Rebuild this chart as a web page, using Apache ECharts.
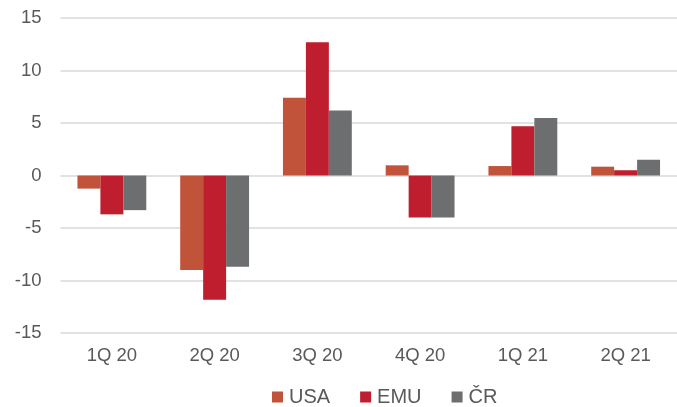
<!DOCTYPE html>
<html><head><meta charset="utf-8">
<script src="https://cdn.jsdelivr.net/npm/echarts@6/dist/echarts.min.js"></script>
<style>html,body{margin:0;padding:0;background:#fff}#c{width:677px;height:407px}</style>
</head><body><div id="c"></div>
<script>
const categories = ['1Q 20','2Q 20','3Q 20','4Q 20','1Q 21','2Q 21'];
const usa = [-1.25, -9.0, 7.4, 0.97, 0.9, 0.84];
const emu = [-3.7, -11.83, 12.7, -4.0, 4.7, 0.5];
const cr  = [-3.3, -8.7, 6.2, -4.0, 5.48, 1.5];
const seriesNames = ['USA','EMU','ČR'];
const colors = ['#C0533A','#BE1E2D','#6D6E70'];
const chart = echarts.init(document.getElementById('c'));
const font = 'Liberation Sans, Arial, sans-serif';
chart.setOption({
  animation:false,
  textStyle:{fontFamily:font},
  grid:{left:60.5, top:18, width:627.6, height:315, containLabel:false},
  legend:{
    data:seriesNames, left:267, top:382, itemWidth:11, itemHeight:11, itemGap:30,
    icon:'rect',
    textStyle:{fontFamily:font, fontSize:20, color:'#595959', padding:[0,0,0,1]}
  },
  xAxis:{
    type:'category', data:categories,
    axisLine:{show:false}, axisTick:{show:false},
    axisLabel:{fontSize:18.5, color:'#595959', margin:13, fontFamily:font}
  },
  yAxis:{
    type:'value', min:-15, max:15, interval:5,
    axisLine:{show:false}, axisTick:{show:false},
    axisLabel:{fontSize:18.5, color:'#595959', margin:19, fontFamily:font},
    splitLine:{lineStyle:{color:'#d9d9d9', width:1.5}}
  },
  series:[
    {name:'USA', type:'bar', data:usa, itemStyle:{color:colors[0]}, barGap:'0%', barCategoryGap:'33%'},
    {name:'EMU', type:'bar', data:emu, itemStyle:{color:colors[1]}, barGap:'0%', barCategoryGap:'33%'},
    {name:'ČR', type:'bar', data:cr, itemStyle:{color:colors[2]}, barGap:'0%', barCategoryGap:'33%'}
  ]
});
</script></body></html>
